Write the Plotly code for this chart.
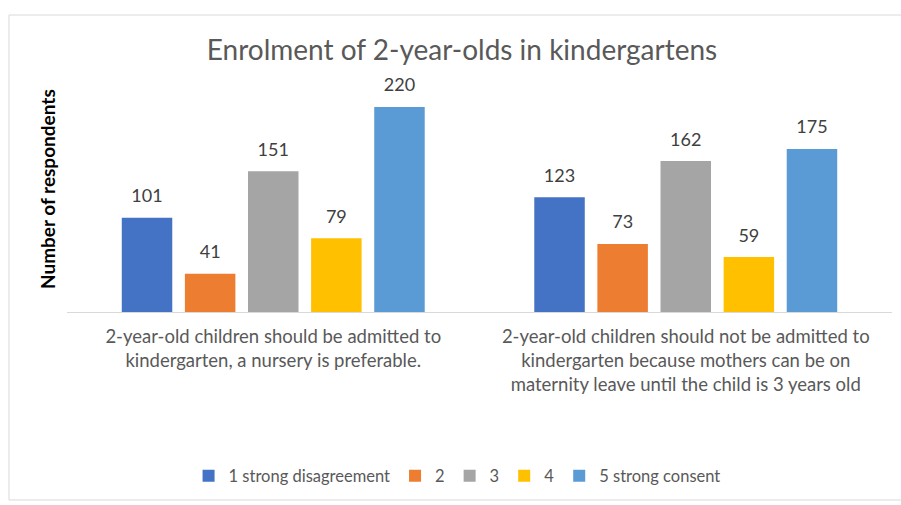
import plotly.graph_objects as go

categories = [
    "2-year-old children should be admitted to<br>kindergarten, a nursery is preferable.",
    "2-year-old children should not be admitted to<br>kindergarten because mothers can be on<br>maternity leave until the child is 3 years old",
]
series_names = ["1 strong disagreement", "2", "3", "4", "5 strong consent"]
series_values = {
    "1 strong disagreement": [101, 123],
    "2": [41, 73],
    "3": [151, 162],
    "4": [79, 59],
    "5 strong consent": [220, 175],
}
colors = ["#4472C4", "#ED7D31", "#A5A5A5", "#FFC000", "#5B9BD5"]

FONT = "Lato"
fig = go.Figure()
for name, col in zip(series_names, colors):
    vals = series_values[name]
    fig.add_trace(go.Bar(
        name=name, x=categories, y=vals, marker_color=col,
        marker_line_width=0, hoverinfo="skip",
    ))
# value labels (grouped scatter text aligned with the grouped bars)
for name in series_names:
    vals = series_values[name]
    fig.add_trace(go.Scatter(
        x=categories, y=vals, mode="markers+text", showlegend=False,
        text=[str(v) for v in vals], textposition="top center",
        textfont=dict(size=18, color="#404040", family=FONT),
        marker=dict(size=16, opacity=0), hoverinfo="skip", cliponaxis=False,
    ))

fig.update_layout(
    width=901, height=505,
    margin=dict(l=67, r=9, t=79, b=193),
    paper_bgcolor="white", plot_bgcolor="white",
    barmode="group", bargap=0.235, bargroupgap=0.2,
    scattermode="group", scattergap=0.235,
    title=dict(text="Enrolment of 2-year-olds in kindergartens",
               x=462 / 901, xanchor="center", y=1 - 50 / 505, yanchor="middle",
               font=dict(size=28, color="#595959", family=FONT)),
    showlegend=True,
    legend=dict(orientation="h", x=426 / 901, xanchor="center",
                y=-(476 - 312) / 233, yanchor="middle",
                font=dict(size=16.5, color="#595959", family=FONT),
                traceorder="normal", itemwidth=30),
    font=dict(family=FONT),
)
fig.update_xaxes(showline=True, linecolor="#D9D9D9", linewidth=1,
                 ticks="", ticklabelstandoff=8,
                 tickfont=dict(size=18.5, color="#595959", family=FONT),
                 showgrid=False)
fig.update_yaxes(range=[0, 250], showticklabels=False, showgrid=False,
                 zeroline=False, showline=False)
fig.add_annotation(text="<b>Number of respondents</b>", textangle=-90,
                   xref="paper", yref="paper", x=-20 / 825, xanchor="center",
                   y=(312 - 189) / 233, yanchor="middle", showarrow=False,
                   font=dict(size=19, color="#000000", family=FONT))
fig.add_shape(type="rect", xref="paper", yref="paper",
              x0=-58 / 825, x1=1 + 20 / 825, y0=-(500 - 312) / 233, y1=(312 - 15) / 233,
              line=dict(color="#D9D9D9", width=1), fillcolor="rgba(0,0,0,0)", layer="below")
fig.write_html("out.html", config={"displayModeBar": False},
               post_script="document.body.style.margin='0px';")
